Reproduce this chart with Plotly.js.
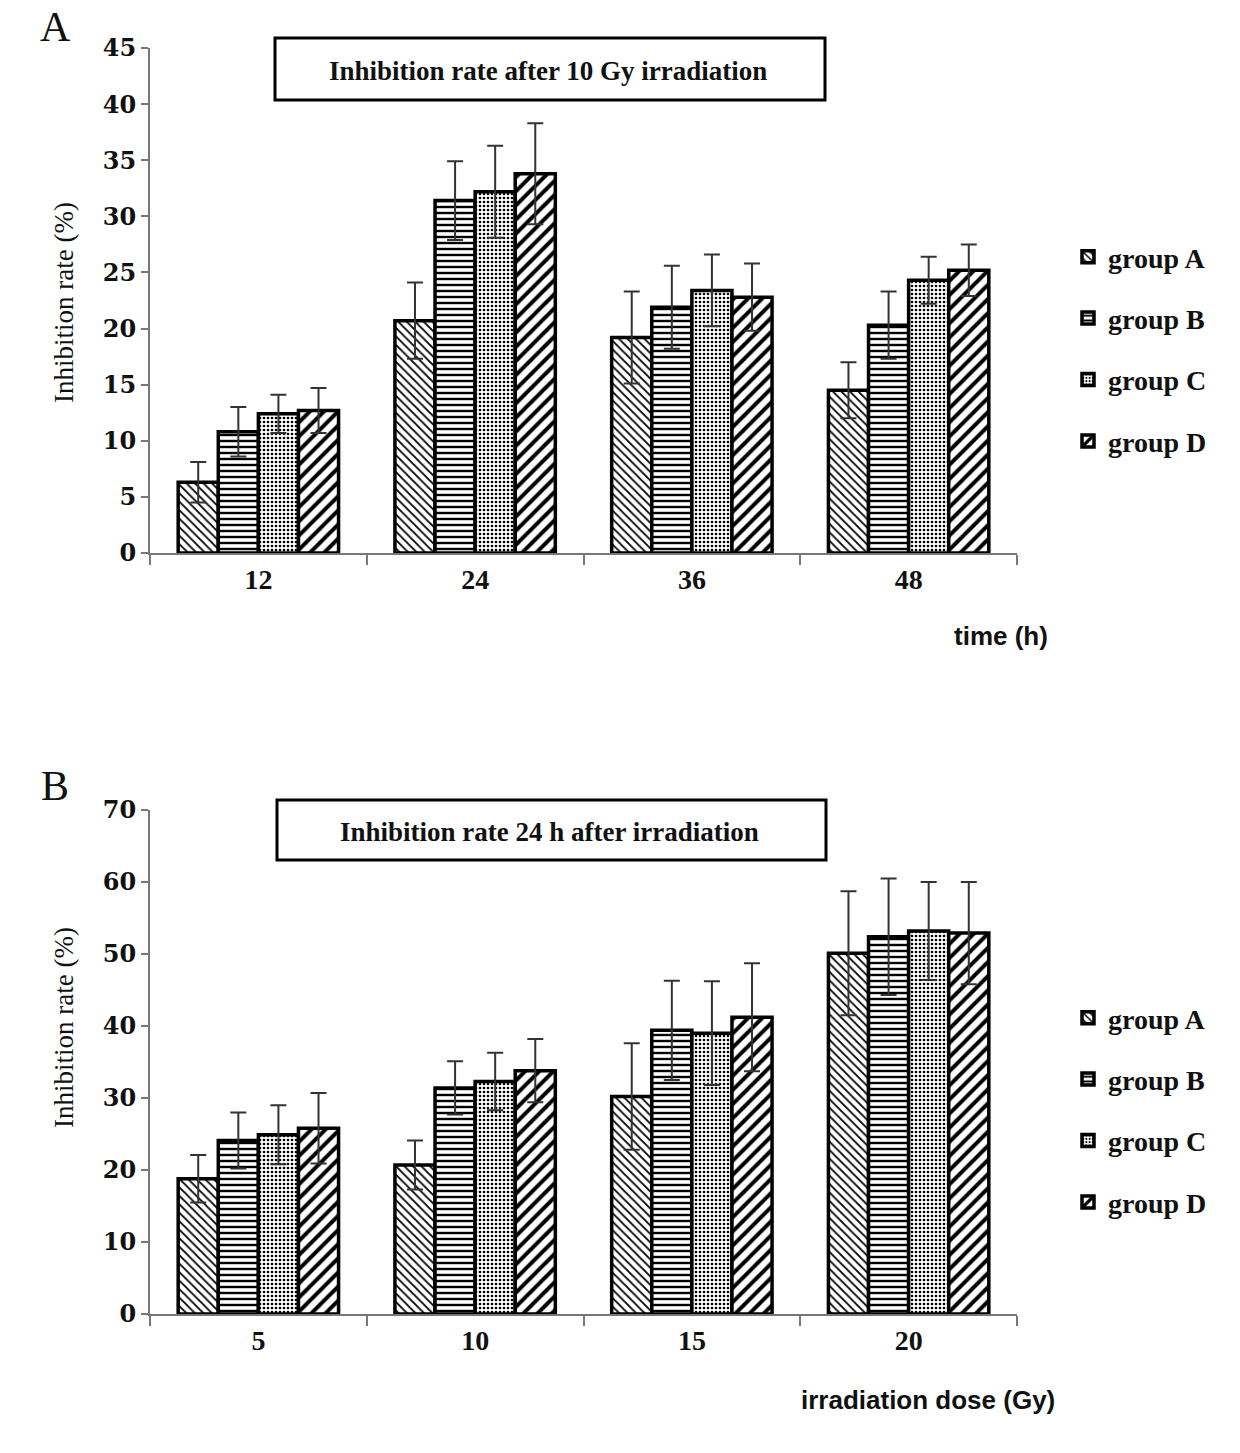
<!DOCTYPE html>
<html>
<head>
<meta charset="utf-8">
<script src="https://cdn.plot.ly/plotly-3.0.1.min.js"></script>
<style>
  body { margin: 0; background: #fff; }
  #chart { width: 1240px; height: 1453px; }
</style>
</head>
<body>
<div id="chart"></div>
<script>
// Panel A: inhibition rate after 10 Gy, by time (h)
var timeLabels = ['12', '24', '36', '48'];
var timeA = [6.3, 20.7, 19.2, 14.5];
var timeAErr = [1.8, 3.4, 4.1, 2.5];
var timeB = [10.8, 31.4, 21.9, 20.3];
var timeBErr = [2.2, 3.5, 3.7, 3.0];
var timeC = [12.4, 32.2, 23.4, 24.3];
var timeCErr = [1.7, 4.1, 3.2, 2.1];
var timeD = [12.7, 33.8, 22.8, 25.2];
var timeDErr = [2.0, 4.5, 3.0, 2.3];

// Panel B: inhibition rate 24 h after irradiation, by dose (Gy)
var doseLabels = ['5', '10', '15', '20'];
var doseA = [18.8, 20.7, 30.2, 50.1];
var doseAErr = [3.3, 3.4, 7.4, 8.6];
var doseB = [24.1, 31.4, 39.4, 52.4];
var doseBErr = [3.9, 3.7, 6.9, 8.1];
var doseC = [24.9, 32.3, 39.0, 53.2];
var doseCErr = [4.1, 4.0, 7.2, 6.8];
var doseD = [25.8, 33.8, 41.2, 52.9];
var doseDErr = [4.9, 4.4, 7.5, 7.1];

var groupNames = ['group A', 'group B', 'group C', 'group D'];
var patterns = [
    {shape: '\\', size: 6, solidity: 0.3},
    {shape: '-', size: 6, solidity: 0.4},
    {shape: '.', size: 4, solidity: 0.35},
    {shape: '/', size: 10, solidity: 0.4}
];

function barTrace(i, x, y, err, xaxis, yaxis, legend) {
    return {
        type: 'bar',
        name: groupNames[i],
        x: x,
        y: y,
        xaxis: xaxis,
        yaxis: yaxis,
        legend: legend,
        legendgroup: legend + i,
        marker: {
            color: 'white',
            line: {color: 'black', width: 3.5},
            pattern: {
                shape: patterns[i].shape,
                size: patterns[i].size,
                solidity: patterns[i].solidity,
                fgcolor: 'black',
                bgcolor: 'white',
                fillmode: 'replace'
            }
        },
        error_y: {type: 'data', array: err, visible: true, color: '#333', thickness: 2, width: 8}
    };
}

var traces = [
    barTrace(0, timeLabels, timeA, timeAErr, 'x', 'y', 'legend'),
    barTrace(1, timeLabels, timeB, timeBErr, 'x', 'y', 'legend'),
    barTrace(2, timeLabels, timeC, timeCErr, 'x', 'y', 'legend'),
    barTrace(3, timeLabels, timeD, timeDErr, 'x', 'y', 'legend'),
    barTrace(0, doseLabels, doseA, doseAErr, 'x2', 'y2', 'legend2'),
    barTrace(1, doseLabels, doseB, doseBErr, 'x2', 'y2', 'legend2'),
    barTrace(2, doseLabels, doseC, doseCErr, 'x2', 'y2', 'legend2'),
    barTrace(3, doseLabels, doseD, doseDErr, 'x2', 'y2', 'legend2')
];

var H = 1453, W = 1240;
function py(pix) { return (H - pix) / H; }
function px(pix) { return pix / W; }

var yTickFont = {family: 'DejaVu Serif', size: 24, weight: 'bold', color: '#111'};
var xTickFont = {family: 'Liberation Serif', size: 28, weight: 'bold', color: '#111'};
var legendFont = {family: 'Liberation Serif', size: 28, weight: 'bold', color: '#111'};

function xAxis(anchor) {
    return {
        domain: [px(150), px(1017)],
        anchor: anchor,
        type: 'category',
        showline: true, linecolor: '#777', linewidth: 2,
        ticks: 'outside', tickson: 'boundaries', ticklen: 10, tickcolor: '#777', tickwidth: 2,
        tickfont: xTickFont,
        showgrid: false, zeroline: false, fixedrange: true
    };
}
function yAxis(anchor, domain, max) {
    return {
        domain: domain,
        anchor: anchor,
        range: [0, max],
        dtick: max === 45 ? 5 : 10,
        showline: true, linecolor: '#777', linewidth: 2,
        ticks: 'outside', ticklen: 7, tickcolor: '#777', tickwidth: 2,
        tickfont: yTickFont,
        showgrid: false, zeroline: false, fixedrange: true
    };
}

var legendBase = {
    x: px(1068), xanchor: 'left', yanchor: 'top',
    font: legendFont,
    tracegroupgap: 22,
    itemwidth: 30,
    bgcolor: 'rgba(0,0,0,0)'
};

function note(text, x, y, font, extra) {
    return Object.assign({
        text: text, xref: 'paper', yref: 'paper', x: px(x), y: py(y),
        xanchor: 'center', yanchor: 'middle', showarrow: false, font: font
    }, extra || {});
}

var boxFont = {family: 'Liberation Serif', size: 27, weight: 'bold', color: '#111'};
var letterFont = {family: 'Liberation Serif', size: 42, color: '#111'};
var yTitleFont = {family: 'Liberation Serif', size: 27, color: '#111'};
var xTitleFont = {family: 'Liberation Sans Narrow, Liberation Sans', size: 26, weight: 'bold', color: '#111'};

var layout = {
    width: W, height: H,
    margin: {l: 0, r: 0, t: 0, b: 0},
    paper_bgcolor: 'white', plot_bgcolor: 'white',
    barmode: 'group', bargap: 0.26, bargroupgap: 0,
    showlegend: true,
    xaxis: xAxis('y'),
    yaxis: yAxis('x', [py(553), py(48)], 45),
    xaxis2: xAxis('y2'),
    yaxis2: yAxis('x2', [py(1314), py(810)], 70),
    legend: Object.assign({}, legendBase, {y: py(232)}),
    legend2: Object.assign({}, legendBase, {y: py(993)}),
    shapes: [
        {type: 'rect', xref: 'paper', yref: 'paper', x0: px(275), x1: px(825), y0: py(100), y1: py(38),
         line: {color: 'black', width: 3}, fillcolor: 'white'},
        {type: 'rect', xref: 'paper', yref: 'paper', x0: px(277), x1: px(826), y0: py(860), y1: py(800),
         line: {color: 'black', width: 3}, fillcolor: 'white'}
    ],
    annotations: [
        note('Inhibition rate after 10 Gy irradiation', 548, 71, boxFont),
        note('Inhibition rate 24 h after irradiation', 549, 832, boxFont),
        note('A', 55, 27, letterFont),
        note('B', 55, 786, letterFont),
        note('Inhibition rate (%)', 64, 303, yTitleFont, {textangle: -90}),
        note('Inhibition rate (%)', 64, 1028, yTitleFont, {textangle: -90}),
        note('time (h)', 1050, 636, xTitleFont, {xanchor: 'right'}),
        note('irradiation dose (Gy)', 1057, 1400, xTitleFont, {xanchor: 'right'})
    ]
};

Plotly.newPlot('chart', traces, layout, {displayModeBar: false, staticPlot: true});
</script>
</body>
</html>
